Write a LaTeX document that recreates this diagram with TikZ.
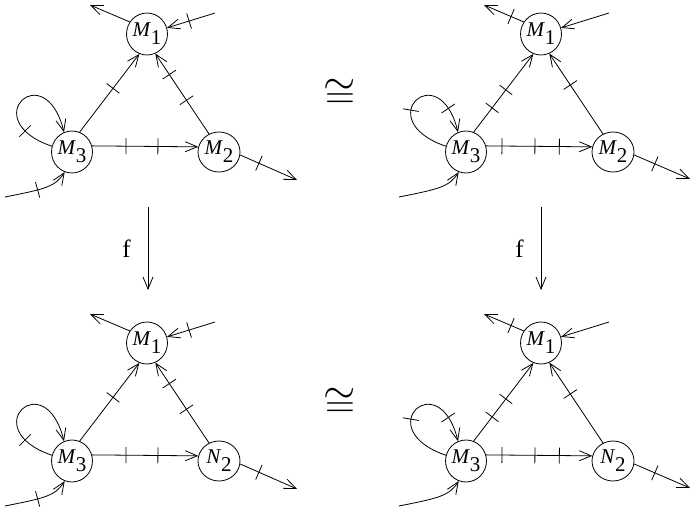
\documentclass[tikz,border=0pt]{standalone}
\usepackage[no-math]{fontspec}
\setmainfont{Liberation Serif}
\usetikzlibrary{arrows.meta,shapes.geometric,decorations.markings}
\newcommand\statelabel[2]{\textit{#1}\raisebox{-4pt}{#2}}
\tikzset{
  state/.style={draw, ellipse, inner sep=0pt, minimum width=17pt, minimum height=21pt,
    font=\fontsize{10.5}{12}\selectfont},
  widestate/.style={state, minimum width=21pt, minimum height=20pt},
  iso/.style={inner sep=0pt, font=\fontsize{22}{24}\selectfont},
  tickat/.style={postaction={decorate, decoration={markings,
    mark=at position #1 with {\draw[-] (0,-4pt) -- (0,4pt);}}}}
}
\begin{document}
\begin{tikzpicture}[x=0.5pt, y=0.5pt, >={Straight Barb[length=6pt,width=5pt]}]
\useasboundingbox (0,0) rectangle (690,515);
\foreach \row/\letter in {0/M,1/N} {
  % left triangle
  \begin{scope}[shift={(0,-309*\row)}]
    \node[state] (a1) at (147,481) {\statelabel{M}{1}};
    \node[state] (a3) at (72,363) {\statelabel{M}{3}};
    \node[widestate] (a2) at (219,363) {\statelabel{\letter}{2}};
    \coordinate (a1out) at (90,510);
    \coordinate (a1in) at (215,502);
    \coordinate (a2out) at (297,335);
    \coordinate (a3in) at (5,318);
    \draw[->] (a1.145) -- (a1out);
    \draw[->, tickat=0.54] (a1in) -- (a1.17);
    \draw[->, tickat=0.56] (a3.69) -- (a1.249);
    \draw[->, tickat=0.42, tickat=0.74] (a2.119) -- (a1.293);
    \draw[->, tickat=0.32, tickat=0.62] (a3.17) -- (a2.166);
    \draw[->, tickat=0.33] (a2.-8) -- (a2out);
    \draw[->, tickat=0.24] (a3.164) .. controls (-25,395) and (45,460) .. (a3.112);
    \draw[->, tickat=0.5] (a3in) .. controls (45,326) and (55,328) .. (a3.250);
  \end{scope}
  % right triangle
  \begin{scope}[shift={(394,-309*\row)}]
    \node[state] (b1) at (147,481) {\statelabel{M}{1}};
    \node[state] (b3) at (72,363) {\statelabel{M}{3}};
    \node[widestate] (b2) at (219,363) {\statelabel{\letter}{2}};
    \coordinate (b1out) at (90,510);
    \coordinate (b1in) at (215,502);
    \coordinate (b2out) at (296,336);
    \coordinate (b3in) at (5,318);
    \draw[->, tickat=0.32] (b1.145) -- (b1out);
    \draw[->] (b1in) -- (b1.17);
    \draw[->, tickat=0.31, tickat=0.54] (b3.69) -- (b1.249);
    \draw[->, tickat=0.61] (b2.119) -- (b1.293);
    \draw[->, tickat=0.15, tickat=0.46, tickat=0.69] (b3.17) -- (b2.166);
    \draw[->, tickat=0.37] (b2.-8) -- (b2out);
    \draw[->, tickat=0.42, tickat=0.8] (b3.164) .. controls (-25,395) and (45,460) .. (b3.112);
    \draw[->] (b3in) .. controls (45,326) and (55,328) .. (b3.250);
  \end{scope}
}
% maps and isomorphisms
\coordinate (fLtop) at (148,308);
\coordinate (fLbot) at (148,225);
\coordinate (fRtop) at (541,308);
\coordinate (fRbot) at (541,225);
\draw[->] (fLtop) -- node[left=8.5pt, inner sep=0pt, font=\fontsize{12.5}{14}\selectfont] {f} (fLbot);
\draw[->] (fRtop) -- node[left=8.5pt, inner sep=0pt, font=\fontsize{12.5}{14}\selectfont] {f} (fRbot);
\node[iso] (isoTop) at (340,421) {$\cong$};
\node[iso] (isoBot) at (340,112) {$\cong$};
\end{tikzpicture}
\end{document}
